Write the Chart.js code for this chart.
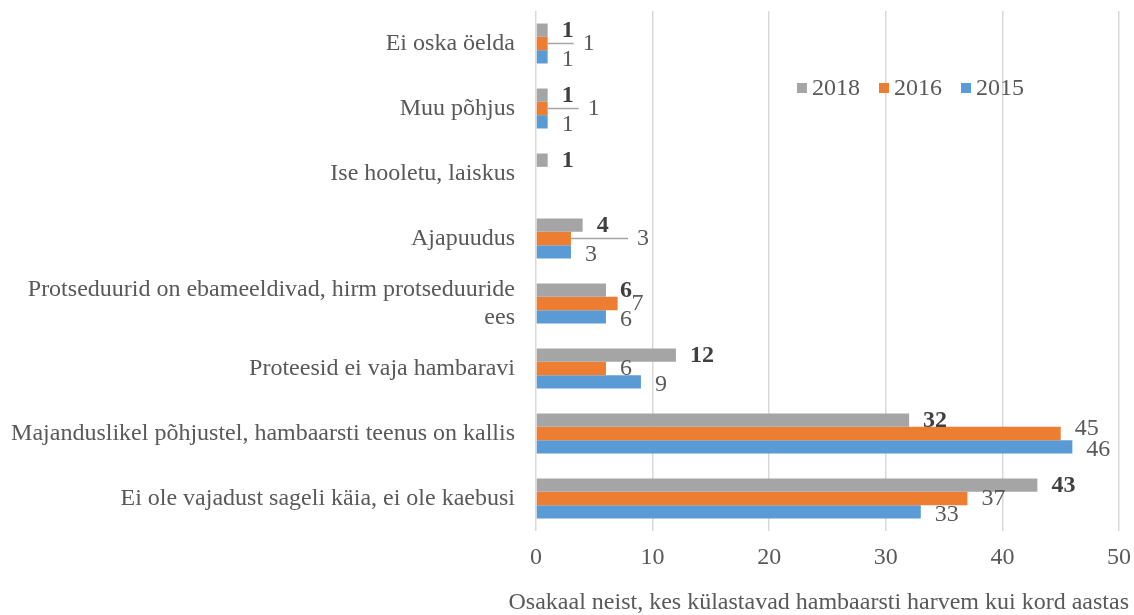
<!DOCTYPE html>
<html lang="et">
<head>
  <meta charset="UTF-8">
  <title>Hambaarsti harvem külastamise põhjused</title>
  <script src="https://cdn.jsdelivr.net/npm/chart.js"></script>
  <style>
    html, body { margin: 0; padding: 0; background: #fff; }
    #wrap { width: 1134px; height: 615px; position: relative; }
  </style>
</head>
<body>
  <div id="wrap"><canvas id="chart"></canvas></div>

  <script>
    // categories, top to bottom
    const categories = [
      'Ei oska öelda',
      'Muu põhjus',
      'Ise hooletu, laiskus',
      'Ajapuudus',
      ['Protseduurid on ebameeldivad, hirm protseduuride', 'ees'],
      'Proteesid ei vaja hambaravi',
      'Majanduslikel põhjustel, hambaarsti teenus on kallis',
      'Ei ole vajadust sageli käia, ei ole kaebusi'
    ];
    const years = ['2018', '2016', '2015'];
    const values2018 = [1, 1, 1, 4, 6, 12, 32, 43];
    const values2016 = [1, 1, null, 3, 7, 6, 45, 37];
    const values2015 = [1, 1, null, 3, 6, 9, 46, 33];
    const xTicks = [0, 10, 20, 30, 40, 50];
    const xTitle = 'Osakaal neist, kes külastavad hambaarsti harvem kui kord aastas';

    const FONT = "'Liberation Serif', 'Times New Roman', serif";
    const TEXT = '#595959';

    // value labels at bar ends (a few pushed out with leader lines, as in the original)
    const valueLabels = {
      id: 'valueLabels',
      afterDatasetsDraw(chart, args, opts) {
        const ctx = chart.ctx;
        ctx.save();
        ctx.textBaseline = 'middle';
        ctx.textAlign = 'left';
        chart.data.datasets.forEach((ds, di) => {
          const meta = chart.getDatasetMeta(di);
          meta.data.forEach((bar, i) => {
            const v = ds.data[i];
            if (v === null || v === undefined) return;
            const push = (opts.push[di] && opts.push[di][i]) || 0;
            const dy = (opts.dy[di] || 0) + ((opts.extraDy[di] && opts.extraDy[di][i]) || 0);
            const x = bar.x + 14 + push;
            const y = bar.y + dy;
            if (push) {
              ctx.strokeStyle = '#A6A6A6';
              ctx.lineWidth = 1.5;
              ctx.beginPath();
              ctx.moveTo(bar.x, bar.y);
              ctx.lineTo(x - 9, bar.y);
              ctx.stroke();
            }
            ctx.font = (di === 0 ? 'bold ' : '') + '24px ' + FONT;
            ctx.fillStyle = di === 0 ? '#404040' : TEXT;
            ctx.fillText(String(v), x, y);
          });
        });
        ctx.restore();
      }
    };

    // legend inside the plot area (top right) and the x axis title
    // (drawn by hand: chart.js squeezes a title wider than the axis)
    const extras = {
      id: 'extras',
      afterDraw(chart, args, opts) {
        const ctx = chart.ctx;
        ctx.save();
        ctx.font = '24px ' + FONT;
        ctx.textBaseline = 'middle';
        ctx.textAlign = 'left';
        let x = opts.legendX;
        const y = opts.legendY;
        chart.data.datasets.forEach(ds => {
          ctx.fillStyle = ds.backgroundColor;
          ctx.fillRect(x, y - 5, 10, 10);
          ctx.fillStyle = TEXT;
          ctx.fillText(ds.label, x + 15, y + 1);
          x += 15 + ctx.measureText(ds.label).width + 19;
        });

        ctx.textAlign = 'right';
        ctx.fillText(xTitle, chart.width - 5, chart.scales.x.bottom - 12);
        ctx.restore();
      }
    };

    new Chart(document.getElementById('chart'), {
      type: 'bar',
      data: {
        labels: categories,
        datasets: [
          { label: years[0], data: values2018, backgroundColor: '#A5A5A5' },
          { label: years[1], data: values2016, backgroundColor: '#ED7D31' },
          { label: years[2], data: values2015, backgroundColor: '#5B9BD5' }
        ]
      },
      options: {
        indexAxis: 'y',
        responsive: true,
        maintainAspectRatio: false,
        animation: false,
        categoryPercentage: 0.615,
        barPercentage: 1.0,
        layout: { padding: { top: 11, right: 15, bottom: 0, left: 0 } },
        scales: {
          x: {
            min: 0,
            max: 50,
            afterBuildTicks: s => { s.ticks = xTicks.map(v => ({ value: v })); },
            afterFit: s => { s.height = 84; s.paddingLeft = 0; s.paddingRight = 0; },
            grid: { color: '#D9D9D9', lineWidth: 1.5, drawTicks: false },
            border: { display: false },
            ticks: { color: TEXT, font: { family: FONT, size: 24 }, padding: 12 }
          },
          y: {
            afterFit: s => { s.width = 536; s.paddingTop = 0; s.paddingBottom = 0; },
            grid: { display: false, drawTicks: false },
            border: { display: false },
            ticks: { color: TEXT, font: { family: FONT, size: 24, lineHeight: 1.17 }, padding: 21 }
          }
        },
        plugins: {
          legend: { display: false },
          tooltip: { enabled: false },
          valueLabels: {
            dy: { 0: 1, 1: 0, 2: 3 },
            push: { 1: { 0: 21, 1: 26, 3: 52 } },
            extraDy: { 1: { 6: -5 } }
          },
          extras: { legendX: 797, legendY: 88 }
        }
      },
      plugins: [valueLabels, extras]
    });
  </script>
</body>
</html>
